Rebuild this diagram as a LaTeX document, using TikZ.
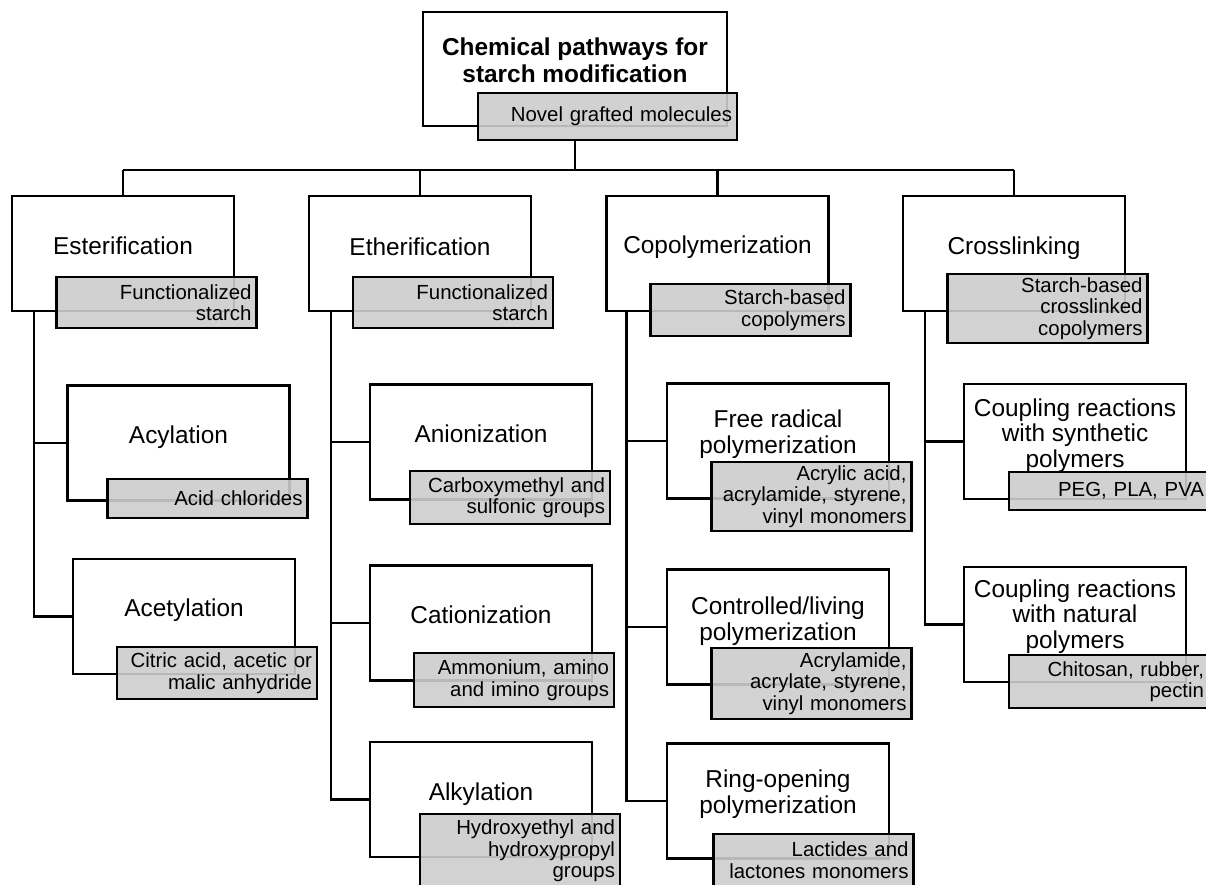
\documentclass[tikz,border=0pt]{standalone}
\usepackage{fontspec}
\setmainfont{Liberation Sans}
\begin{document}
\begin{tikzpicture}[x=1pt,y=-1pt,
  wbox/.style={draw=black, line width=2.1pt, fill=white, rectangle, inner sep=0pt, minimum width=222pt, minimum height=115pt},
  gbox/.style={draw=black, line width=2.1pt, fill={rgb,255:red,205;green,205;blue,205}, fill opacity=0.9, text opacity=1, rectangle, inner xsep=5pt, inner ysep=0pt, text width=190pt, minimum width=200pt, align=right, font=\fontsize{20.4}{21.5}\selectfont},
  lbl/.style={anchor=base, align=center, inner sep=0pt, font=\fontsize{24.4}{25.3}\selectfont},
  conn/.style={draw=black, line width=2.1pt}
]
\useasboundingbox (0,0) rectangle (1206,884);

% ---------- white boxes ----------
\node[wbox, minimum width=304pt, minimum height=114pt] (w0) at (575,69) {};
\node[wbox] (est) at (123,253.5) {};
\node[wbox] (eth) at (420,253.5) {};
\node[wbox] (cop) at (717.5,253.5) {};
\node[wbox] (cro) at (1014,253.5) {};
\node[wbox] (acyl) at (178.5,443) {};
\node[wbox] (acet) at (184,616.5) {};
\node[wbox] (anion) at (481,442) {};
\node[wbox] (cation) at (481,623) {};
\node[wbox] (alkyl) at (481,799.5) {};
\node[wbox] (free) at (778,441) {};
\node[wbox] (ctrl) at (778,627) {};
\node[wbox] (ring) at (778,801) {};
\node[wbox] (coups) at (1075,441.5) {};
\node[wbox] (coupn) at (1075,624.5) {};

% ---------- labels ----------
\node[lbl, font=\bfseries\fontsize{24.4}{27}\selectfont] (t0) at (575,82) {Chemical pathways for\\starch modification};
\node[lbl] (lest) at (123,254) {Esterification};
\node[lbl] (leth) at (420,255) {Etherification};
\node[lbl] (lcop) at (717.5,253) {Copolymerization};
\node[lbl] (lcro) at (1014,254) {Crosslinking};
\node[lbl] (lacyl) at (178.5,443) {Acylation};
\node[lbl] (lacet) at (184,616) {Acetylation};
\node[lbl] (lanion) at (481,442) {Anionization};
\node[lbl] (lcation) at (481,623) {Cationization};
\node[lbl] (lalkyl) at (481,800) {Alkylation};
\node[lbl] (lfree) at (778,453) {Free radical\\polymerization};
\node[lbl] (lctrl) at (778,640) {Controlled/living\\polymerization};
\node[lbl] (lring) at (778,813) {Ring-opening\\polymerization};
\node[lbl] (lcoups) at (1075,467) {Coupling reactions\\with synthetic\\polymers};
\node[lbl] (lcoupn) at (1075,648) {Coupling reactions\\with natural\\polymers};

% ---------- connectors ----------
\coordinate (bus) at (0,170);
\draw[conn] (w0.center |- 0,140) -- (w0.center |- bus);
\draw[conn] (est.north |- bus) -- (cro.north |- bus);
\draw[conn] (est.north |- bus) -- (est.north);
\draw[conn] (eth.north |- bus) -- (eth.north);
\draw[conn] (cop.north |- bus) -- (cop.north);
\draw[conn] (cro.north |- bus) -- (cro.north);

\coordinate (tr1) at ([xshift=23pt]est.south west);
\coordinate (tr2) at ([xshift=23pt]eth.south west);
\coordinate (tr3) at ([xshift=21pt]cop.south west);
\coordinate (tr4) at ([xshift=23pt]cro.south west);
\draw[conn] (tr1) |- (acyl.west);
\draw[conn] (tr1) |- (acet.west);
\draw[conn] (tr2) |- (anion.west);
\draw[conn] (tr2) |- (cation.west);
\draw[conn] (tr2) |- (alkyl.west);
\draw[conn] (tr3) |- (free.west);
\draw[conn] (tr3) |- (ctrl.west);
\draw[conn] (tr3) |- (ring.west);
\draw[conn] (tr4) |- (coups.west);
\draw[conn] (tr4) |- (coupn.west);

% ---------- gray boxes ----------
\node[gbox, minimum width=259pt, text width=249pt, minimum height=47pt] (g0) at (607.5,116.5) {Novel grafted molecules};
\node[gbox, minimum height=51pt] (gest) at (156.5,302.5) {Functionalized\\starch};
\node[gbox, minimum height=51pt] (geth) at (453,302.5) {Functionalized\\starch};
\node[gbox, minimum height=52pt] (gcop) at (750.5,310) {Starch-based\\copolymers};
\node[gbox, minimum height=69pt] (gcro) at (1047.5,308.5) {Starch-based\\crosslinked\\copolymers};
\node[gbox, minimum height=39pt] (gacyl) at (207.5,498.5) {Acid chlorides};
\node[gbox, minimum height=52pt] (gacet) at (217,673) {Citric acid, acetic or\\malic anhydride};
\node[gbox, minimum height=53pt] (ganion) at (510,497.5) {Carboxymethyl and\\sulfonic groups};
\node[gbox, minimum height=54pt] (gcation) at (514,680) {Ammonium, amino\\and imino groups};
\node[gbox, minimum height=74pt] (galkyl) at (520,851) {Hydroxyethyl and\\hydroxypropyl\\groups};
\node[gbox, minimum height=69pt] (gfree) at (811.5,496.5) {Acrylic acid,\\acrylamide, styrene,\\vinyl monomers};
\node[gbox, minimum height=71pt] (gctrl) at (811.5,683.5) {Acrylamide,\\acrylate, styrene,\\vinyl monomers};
\node[gbox, minimum height=52pt] (gring) at (813.5,860) {Lactides and\\lactones monomers};
\node[gbox, minimum height=38pt] (gcoups) at (1109,491) {PEG, PLA, PVA};
\node[gbox, minimum height=53pt] (gcoupn) at (1109,681.5) {Chitosan, rubber,\\pectin};
\end{tikzpicture}
\end{document}
